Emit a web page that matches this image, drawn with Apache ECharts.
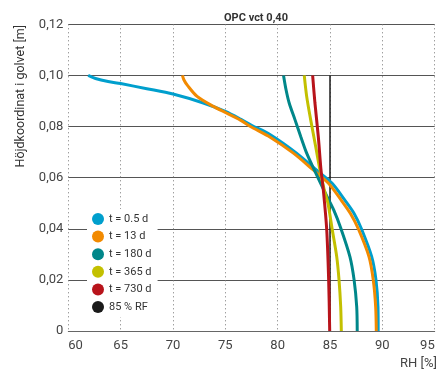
<!DOCTYPE html>
<html>
<head>
<meta charset="utf-8">
<script src="https://cdn.jsdelivr.net/npm/echarts@6/dist/echarts.min.js"></script>
<style>html,body{margin:0;padding:0;background:#fff}#c{width:438px;height:369px}</style>
</head>
<body>
<div id="c"></div>
<script>
const chartTitle = 'OPC vct 0,40';
const xName = 'RH [%]';
const yName = 'Höjdkoordinat i golvet [m]';
const xTicks = [60, 65, 70, 75, 80, 85, 90, 95];
const yTicks = [0, 0.02, 0.04, 0.06, 0.08, 0.10, 0.12];
const seriesNames = ['t = 0.5 d', 't = 13 d', 't = 180 d', 't = 365 d', 't = 730 d', '85 % RF'];
const seriesColors = ['#009fcd', '#f28a00', '#00878a', '#c3c000', '#b8141b', '#1a1a1a'];

// [RH %, height m]
const t05 = [[61.9,0.100],[62.6,0.0988],[63.8,0.0976],[65.0,0.0968],[67.5,0.0948],[70.0,0.0927],[72.9,0.0892],[75.0,0.0859],[76.5,0.0828],[77.5,0.0805],[79.3,0.0768],[81.8,0.0696],[83.7,0.063],[85.2,0.0578],[86.4,0.0513],[87.3,0.046],[88.0,0.040],[88.98,0.0291],[89.39,0.020],[89.58,0.0095],[89.6,0]];
const t13 = [[70.9,0.100],[71.05,0.0982],[71.4,0.0960],[72.3,0.0918],[73.85,0.0879],[75.1,0.0853],[76.4,0.0826],[77.4,0.080],[79.1,0.0763],[81.5,0.0696],[83.4,0.063],[84.85,0.0578],[86.05,0.0513],[86.95,0.046],[87.7,0.040],[88.72,0.0291],[89.13,0.020],[89.36,0.0095],[89.42,0]];
const t180 = [[80.56,0.100],[80.8,0.0944],[81.1,0.0892],[81.65,0.0827],[82.2,0.0761],[82.77,0.0696],[83.5,0.063],[84.4,0.0552],[85.35,0.0474],[86.05,0.040],[86.9,0.0291],[87.3,0.020],[87.55,0.0095],[87.6,0]];
const t365 = [[82.54,0.100],[82.77,0.0918],[83.15,0.0827],[83.63,0.0722],[84.04,0.063],[84.45,0.0552],[84.8,0.050],[85.2,0.040],[85.64,0.0291],[85.86,0.020],[86.02,0.0095],[86.08,0]];
const t730 = [[83.34,0.100],[83.56,0.0892],[83.88,0.0761],[84.14,0.063],[84.36,0.0552],[84.68,0.040],[84.87,0.020],[84.97,0]];
const rf85 = [[85,0],[85,0.100]];

const allData = [t05, t13, t180, t365, t730, rf85];
const font = 'Roboto, sans-serif';

const chart = echarts.init(document.getElementById('c'), null, {renderer: 'canvas'});
chart.setOption({
  animation: false,
  backgroundColor: '#fff',
  title: {
    text: chartTitle, left: 251, top: 8, textAlign: 'center',
    textStyle: {fontFamily: font, fontSize: 11, fontWeight: 'bold', color: '#333'}
  },
  grid: {left: 68.3, right: 3.3, top: 24.3, bottom: 38, containLabel: false},
  xAxis: {
    type: 'value', min: xTicks[0], max: xTicks[xTicks.length - 1], interval: 5,
    axisLine: {show: true, lineStyle: {color: '#666', width: 1}},
    axisTick: {show: false},
    axisLabel: {fontFamily: font, fontSize: 13, color: '#444', margin: 8, alignMinLabel: 'left', alignMaxLabel: 'right'},
    splitLine: {show: true, lineStyle: {color: '#777', type: [1, 3], width: 1}}
  },
  yAxis: {
    type: 'value', min: yTicks[0], max: yTicks[yTicks.length - 1], interval: 0.02,
    axisLine: {show: false},
    axisTick: {show: false},
    axisLabel: {fontFamily: font, fontSize: 13, color: '#444', margin: 5,
      formatter: v => v === 0 ? '0' : v.toFixed(2).replace('.', ',')},
    splitLine: {show: true, lineStyle: {color: '#555', width: 1}}
  },
  legend: {
    orient: 'vertical', left: 87, top: 209,
    backgroundColor: '#fff', padding: [4, 6, 4, 5],
    icon: 'circle', itemWidth: 12, itemHeight: 12, itemGap: 5.6,
    textStyle: {fontFamily: font, fontSize: 11, color: '#333'},
    data: seriesNames
  },
  graphic: [
    {type: 'text', left: 14, top: 25, style: {text: yName, font: '12.5px ' + font, fill: '#333'}, rotation: Math.PI / 2, originX: 0, originY: 0},
    {type: 'text', right: 1, top: 357, style: {text: xName, font: '13px ' + font, fill: '#444'}}
  ],
  series: allData.map((d, i) => ({
    name: seriesNames[i], type: 'line', data: d,
    smooth: i === 5 ? false : 0.3,
    showSymbol: false, symbol: 'circle',
    lineStyle: {color: seriesColors[i], width: i === 5 ? 1.5 : 3},
    itemStyle: {color: seriesColors[i]},
    z: i === 5 ? 3 : 4
  }))
});
</script>
</body>
</html>
